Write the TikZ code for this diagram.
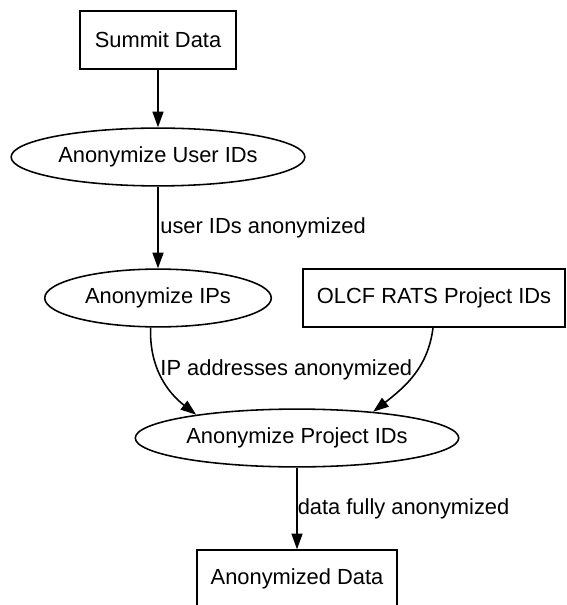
\documentclass[tikz,border=0pt]{standalone}
\usepackage{fontspec}
\setmainfont{Liberation Sans}
\usepackage{tikz}
\usetikzlibrary{positioning,shapes.geometric,arrows.meta}

\tikzset{
    box/.style={draw, rectangle, minimum height=37pt, inner sep=0pt},
    oval/.style={draw, ellipse, minimum height=37pt, inner sep=0pt},
    lbl/.style={inner sep=1pt, font=\fontsize{14}{16}\selectfont}
}

\begin{document}
\begin{tikzpicture}[x=0.64pt, y=-0.64pt, line width=1pt,
        every node/.append style={font=\fontsize{14}{16}\selectfont},
        >={Triangle[length=10pt,width=7pt]}]
            \useasboundingbox (0,0) rectangle (566,605);

            \node (summit) at (158,40) [box, minimum width=100pt] {Summit Data};
            \node (userids) at (158,157) [oval, minimum width=188pt] {Anonymize User IDs};
            \node (ips) at (158,298) [oval, minimum width=145pt] {Anonymize IPs};
            \node (rats) at (434,298) [box, minimum width=168pt] {OLCF RATS Project IDs};
            \node (projids) at (297,438) [oval, minimum width=207pt] {Anonymize Project IDs};
            \node (anondata) at (297,579) [box, minimum width=128pt] {Anonymized Data};

            \draw[->] (summit) -- (userids);
            \draw[->] (userids) -- node[lbl, right] {user IDs anonymized} (ips);
            \draw[->] (ips.256) to[out=-92, in=142] node[lbl, right, pos=0.42] {IP addresses anonymized} (projids.167);
            \draw[->] (rats.south -| 433,0) to[out=-97, in=38] (projids.19);
            \draw[->] (projids) -- node[lbl, right, inner sep=0pt] {data fully anonymized} (anondata);
        \end{tikzpicture}
\end{document}
